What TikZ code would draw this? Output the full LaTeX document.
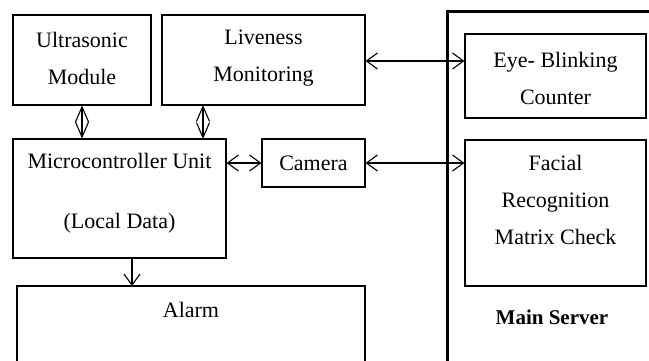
\documentclass[tikz,border=0pt]{standalone}
\usepackage{fontspec}
\setmainfont{Liberation Serif}
\usetikzlibrary{arrows.meta}
\begin{document}
\begin{tikzpicture}[x=1pt,y=-1pt,
  box/.style={draw,line width=1.1pt,inner sep=0pt},
  lbl/.style={font=\fontsize{22}{37}\selectfont,align=center,inner sep=0pt},
  conn/.style={line width=1.1pt,{Straight Barb[length=11pt,width=16pt,line width=1.1pt]}-{Straight Barb[length=11pt,width=16pt,line width=1.1pt]}},
  vconn/.style={line width=1.1pt,{Straight Barb[length=15pt,width=13pt,line width=1.1pt]}-{Straight Barb[length=15pt,width=13pt,line width=1.1pt]}},
  oneway/.style={line width=1.1pt,-{Straight Barb[length=11pt,width=16pt,line width=1.1pt]}}]
\useasboundingbox (0,0) rectangle (649,360);
% boxes
\node[box,minimum width=138pt,minimum height=90pt] (us) at (82,60) {};
\node[lbl] at (82,58) {Ultrasonic\\Module};
\node[box,minimum width=203pt,minimum height=90pt] (lv) at (263.5,60) {};
\node[lbl] at (263.5,58) {Liveness\\Monitoring};
\node[box,minimum width=213pt,minimum height=119pt] (mc) at (119.5,198.5) {};
\node[lbl,font=\fontsize{22}{60}\selectfont] at (119.5,193) {Microcontroller Unit\\(Local Data)};
\node[box,minimum width=103pt,minimum height=48pt] (cam) at (313.5,163) {};
\node[lbl] at (313.5,163) {Camera};
\draw[line width=1.1pt] (365,370) -- (365,286) -- (17,286) -- (17,370);
\coordinate (al) at (132,286);
\node[lbl] at (191,310) {Alarm};
% main server
\draw[line width=3pt] (447,365) -- (447,11) -- (655,11);
\node[box,minimum width=181pt,minimum height=84pt] (eb) at (555.5,76) {};
\node[lbl] at (555.5,78) {Eye- Blinking\\Counter};
\node[box,minimum width=181pt,minimum height=146pt] (fr) at (555.5,213) {};
\node[lbl] at (555.5,200) {Facial\\Recognition\\Matrix Check};
\node[lbl,font=\fontsize{21}{24}\bfseries] at (552,317) {Main Server};
% connectors
\draw[vconn] (us.south) -- (us.south |- mc.north);
\draw[vconn] (203,105) -- (203,139);
\draw[conn] (mc.east |- cam.west) -- (cam.west);
\draw[conn] (lv.east |- 0,61) -- (eb.west |- 0,61);
\draw[conn] (cam.east) -- (fr.west |- cam.east);
\draw[oneway] (mc.south -| al) -- (al);
\end{tikzpicture}
\end{document}
